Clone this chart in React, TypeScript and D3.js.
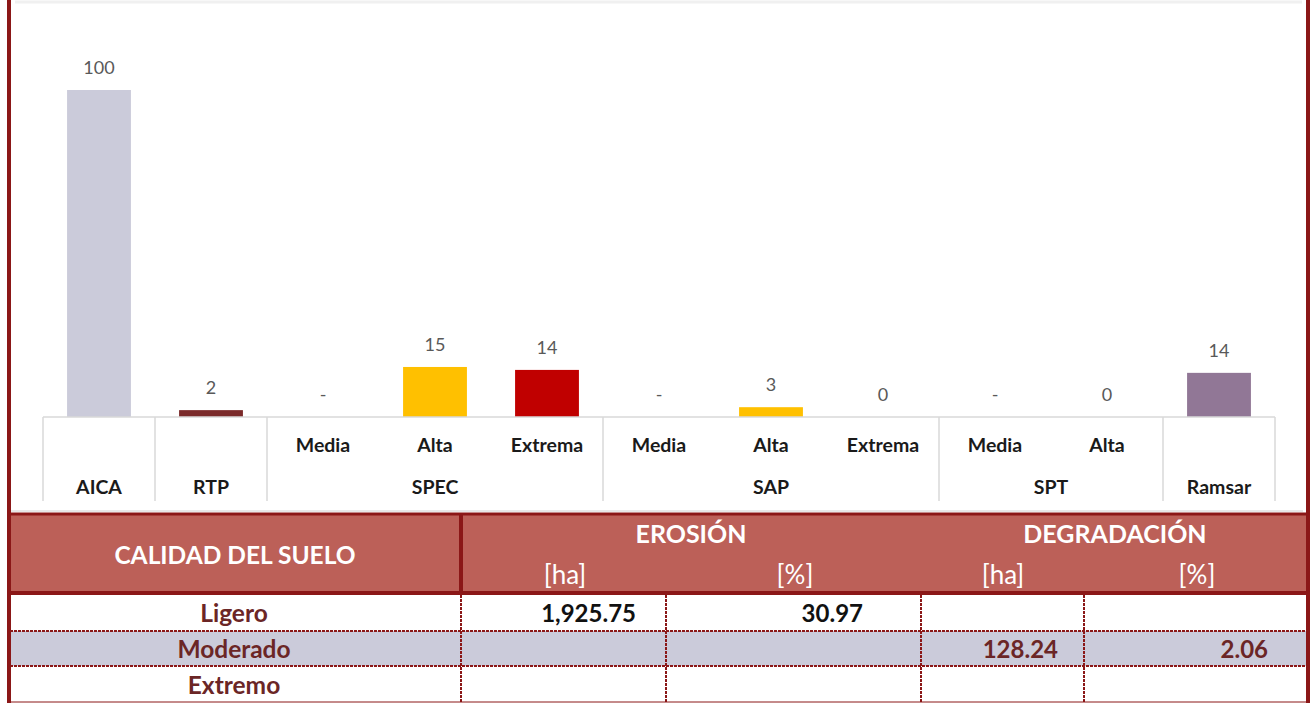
import React from "react";
import * as d3 from "d3";

// ---------- DATA ----------
const categories = ["AICA", "RTP", "Media", "Alta", "Extrema", "Media", "Alta", "Extrema", "Media", "Alta", "Ramsar"];
const groupOf = ["", "", "SPEC", "SPEC", "SPEC", "SAP", "SAP", "SAP", "SPT", "SPT", ""];
const values: (number | null)[] = [100, 2.1, null, 15.3, 14.4, null, 3.0, 0, null, 0, 13.5];
const valueLabels = ["100", "2", "-", "15", "14", "-", "3", "0", "-", "0", "14"];
const barColors = ["#CBCBDA", "#7B2A2A", "#FFC000", "#FFC000", "#C00000", "#FFC000", "#FFC000", "#C00000", "#FFC000", "#FFC000", "#917796"];

const tableTitle = "CALIDAD DEL SUELO";
const tableGroups = ["EROSIÓN", "DEGRADACIÓN"];
const tableUnits = ["[ha]", "[%]", "[ha]", "[%]"];
const tableRows = ["Ligero", "Moderado", "Extremo"];
const erosionHa = ["1,925.75", "", ""];
const erosionPct = ["30.97", "", ""];
const degradHa = ["", "128.24", ""];
const degradPct = ["", "2.06", ""];

const FONT = "Lato, 'Open Sans', 'DejaVu Sans', sans-serif";
const DARK_RED = "#8B1717";

export default function App() {
  const W = 1310, H = 703;
  const x = d3.scaleBand<number>().domain(d3.range(categories.length)).range([43, 1275]).paddingInner(0.43).paddingOuter(0.215);
  const y = d3.scaleLinear().domain([0, 100]).range([417, 90]);
  const baseY = y(0);

  const boundaries: number[] = [x.range()[0]];
  for (let i = 1; i < categories.length; i++) {
    const prev = groupOf[i - 1], cur = groupOf[i];
    if (prev === "" || cur === "" || prev !== cur) boundaries.push((x(i) as number) - (x.step() - x.bandwidth()) / 2);
  }
  boundaries.push(x.range()[1]);

  const groupNames = Array.from(new Set(groupOf.filter((g) => g !== "")));
  const groupCenters = groupNames.map((g) => {
    const idx = groupOf.map((v, i) => (v === g ? i : -1)).filter((i) => i >= 0);
    const a = (x(idx[0]) as number) + x.bandwidth() / 2;
    const b = (x(idx[idx.length - 1]) as number) + x.bandwidth() / 2;
    return { g, cx: (a + b) / 2 };
  });

  const colX = [10, 461, 666, 921, 1084, 1307];
  const headTop = 514, headBot = 593;
  const rowYs = [594, 631, 666, 703];
  const cellValues = [erosionHa, erosionPct, degradHa, degradPct];
  const valueRight = [636, 863, 1058, 1268];
  const valueColor = ["#111", "#111", "#6B2626", "#6B2626"];

  return (
    <svg width={W} height={H} style={{ position: "absolute", left: 0, top: 0, background: "#fff" }} fontFamily={FONT}>
      <rect x={0} y={0} width={W} height={H} fill="#fff" />
      <line x1={15} x2={1302} y1={2} y2={2} stroke="#F0F0F0" strokeWidth={3} />

      {values.map((v, i) =>
        v !== null && v > 0 ? (
          <rect key={"b" + i} x={x(i)} y={y(v)} width={x.bandwidth()} height={baseY - y(v)} fill={barColors[i]} />
        ) : null
      )}
      {values.map((v, i) => (
        <text
          key={"l" + i}
          x={(x(i) as number) + x.bandwidth() / 2}
          y={(v !== null && v > 0 ? y(v) : baseY) - 16}
          textAnchor="middle"
          fontSize={18}
          fill="#595959"
        >
          {valueLabels[i]}
        </text>
      ))}

      <line x1={x.range()[0]} x2={x.range()[1]} y1={baseY} y2={baseY} stroke="#D9D9D9" strokeWidth={1.5} />
      {boundaries.map((bx, i) => (
        <line key={"v" + i} x1={bx} x2={bx} y1={baseY} y2={501} stroke="#D9D9D9" strokeWidth={1.5} />
      ))}
      {categories.map((c, i) => (
        <text
          key={"c" + i}
          x={(x(i) as number) + x.bandwidth() / 2}
          y={groupOf[i] === "" ? 494 : 452}
          textAnchor="middle"
          fontSize={19.5}
          fontWeight="bold"
          fill="#1a1a1a"
        >
          {c}
        </text>
      ))}
      {groupCenters.map((gc) => (
        <text key={gc.g} x={gc.cx} y={494} textAnchor="middle" fontSize={19.5} fontWeight="bold" fill="#1a1a1a">
          {gc.g}
        </text>
      ))}
      <line x1={10} x2={1303} y1={511} y2={511} stroke="#D0D0D0" strokeWidth={1} />

      {/* ---------- TABLE ---------- */}
      <rect x={colX[0]} y={headTop} width={colX[5] - colX[0]} height={headBot - headTop} fill="#BC6058" />
      {tableRows.map((r, i) => (
        <rect key={"rb" + i} x={colX[0]} y={rowYs[i]} width={colX[5] - colX[0]} height={rowYs[i + 1] - rowYs[i]} fill={i === 1 ? "#CBCBDA" : "#fff"} />
      ))}
      <line x1={colX[0]} x2={colX[5]} y1={headTop} y2={headTop} stroke={DARK_RED} strokeWidth={3} />
      <line x1={colX[0]} x2={colX[5]} y1={headBot} y2={headBot} stroke={DARK_RED} strokeWidth={4} />
      <line x1={colX[1]} x2={colX[1]} y1={headTop} y2={headBot} stroke={DARK_RED} strokeWidth={4} />
      {[rowYs[1], rowYs[2]].map((ry, i) => (
        <line key={"hd" + i} x1={colX[0]} x2={colX[5]} y1={ry} y2={ry} stroke={DARK_RED} strokeWidth={2} strokeDasharray="3 1" />
      ))}
      {[colX[1], colX[2], colX[3], colX[4]].map((cx, i) => (
        <line key={"vd" + i} x1={cx} x2={cx} y1={headBot + 2} y2={H} stroke={DARK_RED} strokeWidth={2} strokeDasharray="3 1" />
      ))}
      <line x1={colX[0]} x2={colX[5]} y1={H - 1} y2={H - 1} stroke={DARK_RED} strokeWidth={1} />

      <text x={235} y={564} textAnchor="middle" fontSize={24.5} fontWeight="bold" fill="#fff">
        {tableTitle}
      </text>
      <text x={691} y={543} textAnchor="middle" fontSize={25} fontWeight="bold" fill="#fff">
        {tableGroups[0]}
      </text>
      <text x={1115} y={543} textAnchor="middle" fontSize={25} fontWeight="bold" fill="#fff">
        {tableGroups[1]}
      </text>
      {tableUnits.map((u, i) => (
        <text key={"u" + i} x={[565, 795, 1003, 1197][i]} y={584} textAnchor="middle" fontSize={26} fontWeight="normal" fill="#fff">
          {u}
        </text>
      ))}
      {tableRows.map((r, i) => (
        <text key={"rt" + i} x={234} y={(rowYs[i] + rowYs[i + 1]) / 2 + 9} textAnchor="middle" fontSize={24.5} fontWeight="bold" fill="#6B2626">
          {r}
        </text>
      ))}
      {cellValues.map((col, ci) =>
        col.map((v, ri) =>
          v ? (
            <text key={"cv" + ci + ri} x={valueRight[ci]} y={(rowYs[ri] + rowYs[ri + 1]) / 2 + 9} textAnchor="end" fontSize={24} fontWeight="bold" fill={valueColor[ci]}>
              {v}
            </text>
          ) : null
        )
      )}

      <rect x={7} y={0} width={4} height={H} fill={DARK_RED} />
      <rect x={1306} y={0} width={4} height={H} fill={DARK_RED} />
    </svg>
  );
}
